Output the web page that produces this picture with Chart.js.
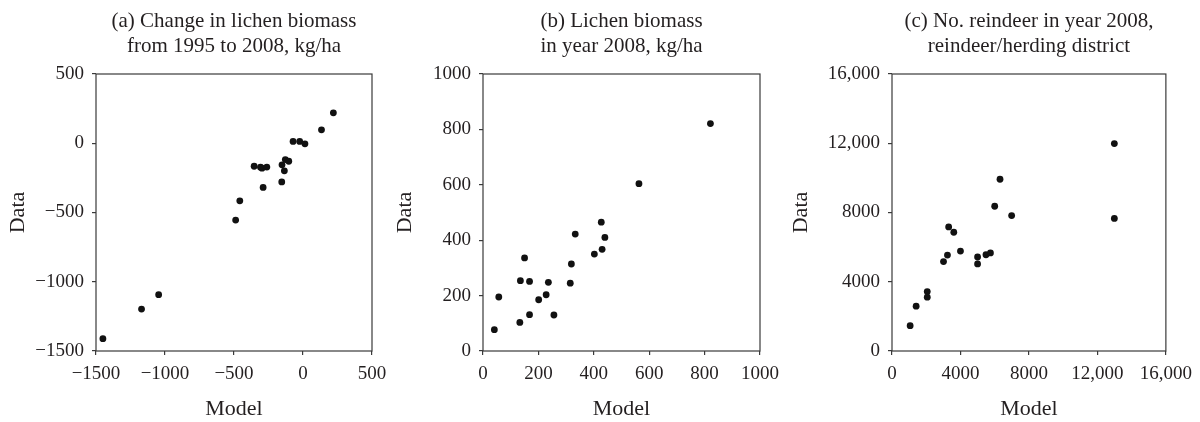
<!DOCTYPE html>
<html lang="en">
<head>
<meta charset="UTF-8">
<title>Model vs data</title>
<script src="https://cdn.jsdelivr.net/npm/chart.js"></script>
<style>
  html, body { margin: 0; padding: 0; background: #fff; }
  .wrap { position: relative; width: 1200px; height: 422px; overflow: hidden; }
  .panel { position: absolute; top: 0; height: 422px; }
</style>
</head>
<body>
<div class="wrap">
  <div class="panel" style="left:0;width:400px"><canvas id="chartA"></canvas></div>
  <div class="panel" style="left:387px;width:400px"><canvas id="chartB"></canvas></div>
  <div class="panel" style="left:783px;width:417px"><canvas id="chartC"></canvas></div>
</div>
<script>
// (a) change in lichen biomass 1995-2008
const modelA = [-1450, -1170, -1046, -488, -458, -354, -308, -297, -262, -289, -154, -152, -135, -128, -103, -72, -24, 14, 134, 220];
const dataA  = [-1411, -1197, -1093, -555, -416, -166, -173, -180, -172, -319, -279, -156, -199, -118, -130, 13, 13, -4, 97, 220];
const ticksA = ['\u22121500', '\u22121000', '\u2212500', '0', '500'];

// (b) lichen biomass 2008
const modelB = [41, 57, 133, 135, 150, 168, 168, 201, 228, 236, 256, 315, 319, 333, 402, 427, 430, 440, 563, 821];
const dataB  = [77, 195, 103, 254, 336, 251, 131, 185, 203, 248, 130, 245, 314, 422, 350, 465, 367, 410, 604, 821];
const ticksB = ['0', '200', '400', '600', '800', '1000'];

// (c) number of reindeer 2008
const modelC = [1060, 1410, 2060, 2060, 3010, 3240, 3310, 3610, 4000, 5000, 5000, 5490, 5750, 6000, 6310, 6990, 12990, 12990];
const dataC  = [1460, 2590, 3430, 3110, 5165, 5540, 7165, 6860, 5770, 5430, 5030, 5560, 5665, 8360, 9920, 7820, 11980, 7660];
const ticksC = ['0', '4000', '8000', '12,000', '16,000'];

const FONT = 'Liberation Serif, Times New Roman, serif';
const INK = '#231f20';
const AXIS = '#3a3a3a';

// box round the plot area
const framePlugin = {
  id: 'frame',
  afterDatasetsDraw(chart) {
    const a = chart.chartArea;
    const ctx = chart.ctx;
    ctx.save();
    ctx.strokeStyle = AXIS;
    ctx.lineWidth = 1.2;
    ctx.strokeRect(a.left, a.top, a.right - a.left, a.bottom - a.top);
    ctx.restore();
  }
};

function axis(min, max, step, labels, title, fitFn) {
  return {
    type: 'linear',
    min: min, max: max,
    afterFit: fitFn,
    ticks: {
      stepSize: step,
      color: INK,
      padding: 8,
      font: { family: FONT, size: 19 },
      callback: (v, i) => labels[i]
    },
    grid: { drawOnChartArea: false, drawTicks: true, tickLength: 4, color: AXIS, lineWidth: 1.2 },
    border: { display: false },
    title: { display: true, text: title, color: INK, font: { family: FONT, size: 22 }, padding: { top: 5, bottom: 0 } }
  };
}

function makePanel(id, title, xs, ys, min, max, step, labels, yWidth, padRight) {
  new Chart(document.getElementById(id), {
    type: 'scatter',
    data: {
      datasets: [{
        data: xs.map((x, i) => ({ x: x, y: ys[i] })),
        pointRadius: 3.4,
        pointBackgroundColor: '#111',
        pointBorderWidth: 0
      }]
    },
    options: {
      responsive: true,
      maintainAspectRatio: false,
      animation: false,
      layout: { padding: { left: 0, right: padRight, top: 0, bottom: 0 } },
      plugins: {
        legend: { display: false },
        tooltip: { enabled: false },
        title: {
          display: true,
          fullSize: false,
          text: title,
          color: INK,
          font: { family: FONT, size: 21, weight: 'normal', lineHeight: 1.2 },
          padding: { top: 9, bottom: 14.6 }
        }
      },
      scales: {
        x: axis(min, max, step, labels, 'Model', s => { s.height = 71; }),
        y: axis(min, max, step, labels, 'Data', s => { s.width = yWidth; })
      }
    },
    plugins: [framePlugin]
  });
}

makePanel('chartA', ['(a) Change in lichen biomass', 'from 1995 to 2008, kg/ha'],
  modelA, dataA, -1500, 500, 500, ticksA, 96, 28);
makePanel('chartB', ['(b) Lichen biomass', 'in year 2008, kg/ha'],
  modelB, dataB, 0, 1000, 200, ticksB, 96, 27);
makePanel('chartC', ['(c) No. reindeer in year 2008,', 'reindeer/herding district'],
  modelC, dataC, 0, 16000, 4000, ticksC, 109, 30);
</script>
</body>
</html>
